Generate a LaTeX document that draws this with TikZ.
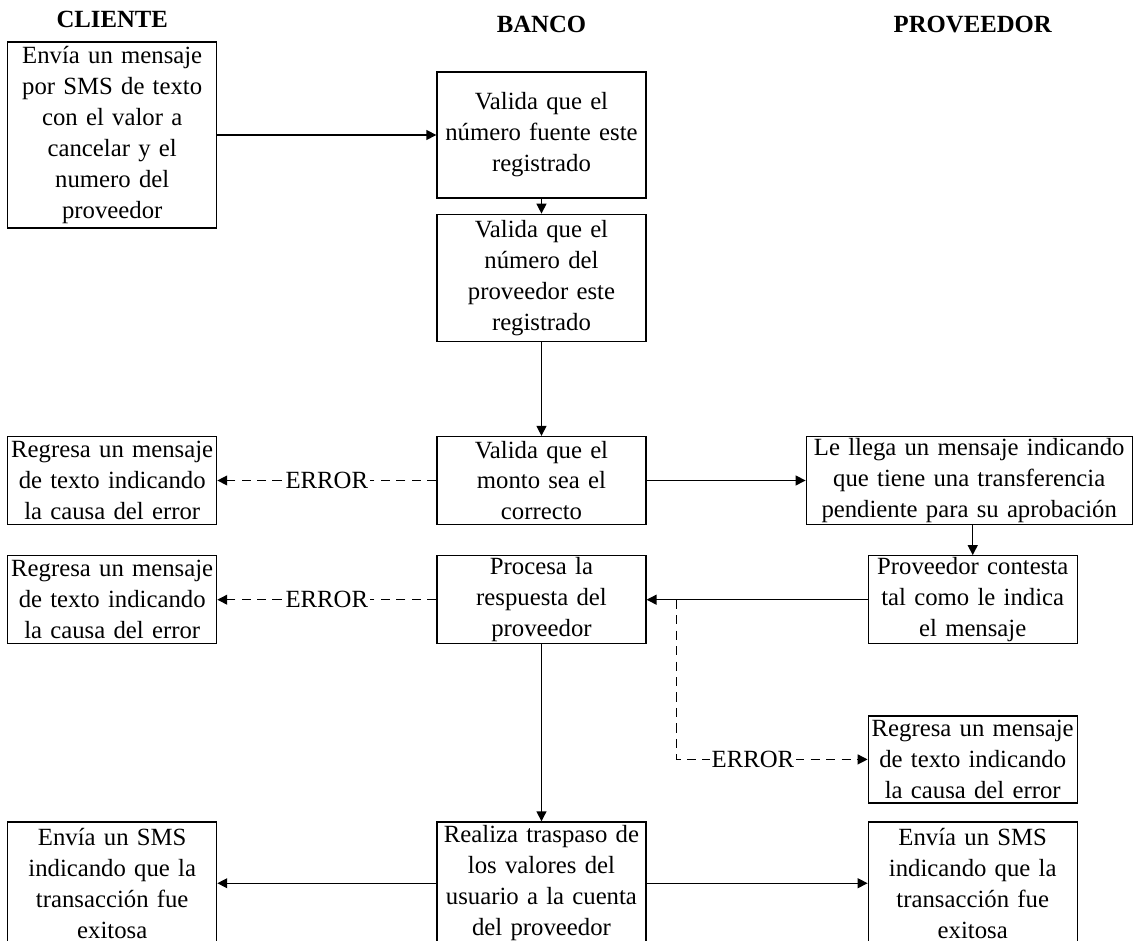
\documentclass[tikz,border=0pt]{standalone}
\usepackage{fontspec}
\setmainfont{Liberation Serif}
\usetikzlibrary{arrows.meta, positioning}

\begin{document}
\begin{tikzpicture}[
    font=\fontsize{12}{15}\selectfont,
    box/.style={rectangle, draw=black, line width=0.6pt,
                text width=3.45cm, minimum width=3.563cm,
                inner xsep=1pt, inner ysep=0.5pt,
                align=center},
    widebox/.style={box, text width=5.3cm,
                    minimum width=5.557cm},   % wider box for the provider
    title/.style={font=\fontsize{12}{15}\selectfont\bfseries,
                  inner sep=0pt},
    arrow/.style={-{Triangle[length=4.8pt, width=4.8pt]}, line width=0.6pt},
    errarrow/.style={arrow, dash pattern=on 4.5pt off 3pt},
    errlabel/.style={fill=white, inner sep=1pt}
]
\useasboundingbox (-9.230,2.301) rectangle (10.100,-13.739);

% bank column
\node (valfuente) [box, minimum height=2.148cm]                     {Valida que el\\número fuente este\\registrado};
\node (valprov)   [box, minimum height=2.165cm, below=0.256cm of valfuente] {Valida que el\\número del\\proveedor este\\registrado};
\node (valmonto)  [box, minimum height=1.5cm, below=1.602cm of valprov]    {Valida que el\\monto sea el\\correcto};
\node (procesa)   [box, minimum height=1.5cm, below=0.511cm of valmonto]   {Procesa la\\respuesta del\\proveedor};
\node (traspaso)  [box, minimum height=2.09cm, below=3.017cm of procesa]   {Realiza traspaso de\\los valores del\\usuario a la cuenta\\del proveedor};

% client column
\node (envia)     [box, minimum height=3.171cm, left=3.733cm of valfuente] {Envía un mensaje\\por SMS de texto\\con el valor a\\cancelar y el\\numero del\\proveedor};
\node (errmonto)  [box, minimum height=1.5cm, left=3.733cm of valmonto]    {Regresa un mensaje\\de texto indicando\\la causa del error};
\node (errresp)   [box, minimum height=1.5cm, left=3.733cm of procesa]     {Regresa un mensaje\\de texto indicando\\la causa del error};
\node (okcliente) [box, minimum height=2.09cm, left=3.733cm of traspaso]   {Envía un SMS\\indicando que la\\transacción fue\\exitosa};

% provider column
\node (llega)     [widebox, minimum height=1.5cm, right=2.710cm of valmonto] {Le llega un mensaje indicando\\que tiene una transferencia\\pendiente para su aprobación};
\node (contesta)  [box, minimum height=1.5cm, right=3.767cm of procesa]    {Proveedor contesta\\tal como le indica\\el mensaje};
\node (errprov)   [box, minimum height=1.483cm, below=1.210cm of contesta] {Regresa un mensaje\\de texto indicando\\la causa del error};
\node (okprov)    [box, minimum height=2.09cm, right=3.767cm of traspaso]  {Envía un SMS\\indicando que la\\transacción fue\\exitosa};

% column titles
\node (cliente)   [title, above=0.22cm of envia]     {CLIENTE};
\node (banco)     [title, above=0.65cm of valfuente] {BANCO};
\node (proveedor) [title] at (banco -| okprov)       {PROVEEDOR};

\coordinate (split) at ([xshift=0.511cm]procesa.east);

\draw [arrow] (envia)     -- (valfuente);
\draw [arrow] (valfuente) -- (valprov);
\draw [arrow] (valprov)   -- (valmonto);
\draw [errarrow] (valmonto) -- node[errlabel]{ERROR} (errmonto);
\draw [arrow] (valmonto)  -- (llega);
\draw [arrow] (llega.south -| contesta) -- (contesta);
\draw [arrow] (contesta)  -- (procesa);
\draw [errarrow] (procesa) -- node[errlabel]{ERROR} (errresp);
\draw [errarrow] (split) |- node[errlabel, pos=0.7]{ERROR} (errprov);
\draw [arrow] (procesa)   -- (traspaso);
\draw [arrow] (traspaso)  -- (okcliente);
\draw [arrow] (traspaso)  -- (okprov);
\end{tikzpicture}
\end{document}
